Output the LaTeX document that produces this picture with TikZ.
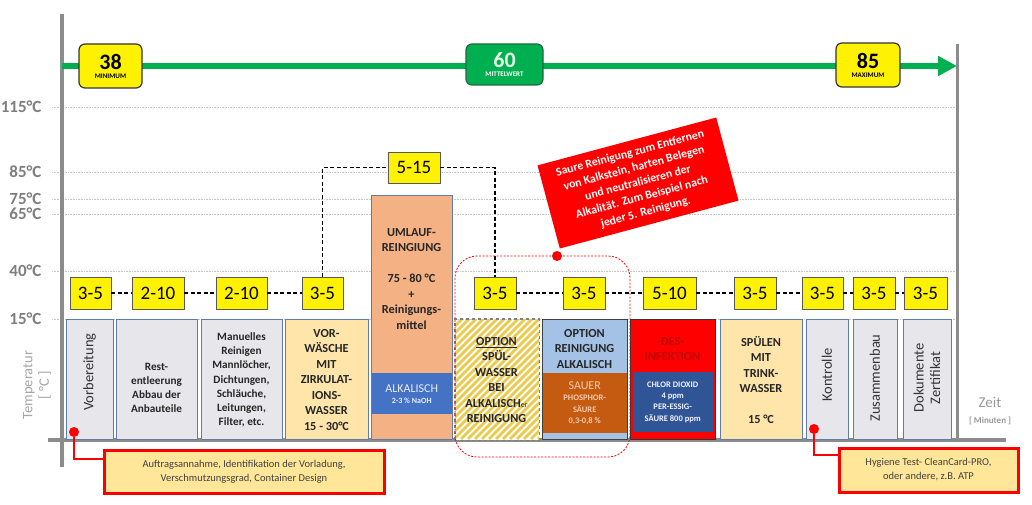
\documentclass[tikz,border=0pt]{standalone}
\usepackage{fontspec}
\setmainfont{Carlito}
\usetikzlibrary{arrows.meta}

\definecolor{blockgrau}{HTML}{E7E6EB}
\definecolor{rahmen}{HTML}{5E7DA8}
\definecolor{pfirsich}{HTML}{FFE5AA}
\definecolor{lachs}{HTML}{F4B183}
\definecolor{blau}{HTML}{4472C4}
\definecolor{hellblau}{HTML}{A4C2E6}
\definecolor{braun}{HTML}{C55A11}
\definecolor{hellbraun}{HTML}{F8CBAD}
\definecolor{dunkelblau}{HTML}{2F5597}
\definecolor{gruen}{HTML}{00B050}
\definecolor{dunkelgruen}{HTML}{1E6B3A}
\definecolor{dunkelrot}{HTML}{C00000}
\definecolor{notiz}{HTML}{FFE699}
\definecolor{achse}{HTML}{8C8C8C}
\definecolor{gitter}{HTML}{C8C8C8}
\definecolor{schraffur}{HTML}{EBC94F}

\tikzset{
	zeitbox/.style={draw=black!65, fill=yellow, line width=0.8pt, inner sep=0pt, minimum height=32pt, font=\fontsize{19}{19}\selectfont},
	kette/.style={black, line width=1.4pt, dash pattern=on 4pt off 2.5pt},
	block/.style={anchor=north west, inner sep=0pt, minimum height=120pt, line width=1.1pt},
	graublock/.style={block, fill=blockgrau, draw=rahmen},
	gelbblock/.style={block, fill=pfirsich, draw=rahmen},
	band/.style={anchor=north west, inner sep=0pt, align=center},
	blocktext/.style={align=center, font=\fontsize{12.3}{15.5}\selectfont\bfseries, text=black!85},
	kleintext/.style={align=center, font=\fontsize{11.2}{14.2}\selectfont\bfseries, text=black!85},
	kanttext/.style={rotate=90, align=center, font=\fontsize{14.5}{16.5}\selectfont, text=black!80},
	wertbox/.style={rounded corners=6pt, draw=black!80, line width=1.2pt, fill=yellow, align=center, inner sep=0pt, font=\fontsize{7}{8}\selectfont\bfseries},
	punkt/.style={circle, fill=red, inner sep=0pt, minimum size=10pt},
	hinweisbox/.style={draw=red, line width=3pt, fill=notiz, align=center, inner sep=0pt, font=\fontsize{10.5}{14}\selectfont, text=black!75},
}

\begin{document}
\begin{tikzpicture}[x=1pt,y=-1pt]
	\useasboundingbox (0,0) rectangle (1032,505);
	
	% Gitter und Temperaturen
	\foreach \y/\lab in {107/115, 172/85, 199/75, 214/65, 271/40, 319/15}{
		\draw[gitter, densely dotted, line width=0.6pt] (52,\y) -- (957,\y);
		\node[anchor=east, text=achse!90!black, font=\fontsize{17}{17}\selectfont\bfseries] (g\lab) at (45,\y) {\lab°C};
	}
	
	% Achsen
	\draw[achse, line width=4pt] (62,14) -- (62,467);
	\draw[achse, line width=4pt] (48,440) -- (1006,440);
	\draw[achse, line width=3pt] (957,44) -- (957,440);
	\node[kanttext, text=black!35] (temp) at (37,385) {Temperatur\\{[ °C ]}};
	\node[align=center, text=black!40, font=\fontsize{9}{16}\selectfont\bfseries] (zeit) at (990,411) {{\fontsize{15}{16}\selectfont\mdseries Zeit}\\{[ Minuten ]}};
	
	% gruener Pfeil mit Werten
	\coordinate (pfeilanfang) at (62,66);
	\coordinate (pfeilende) at (957,66);
	\draw[gruen, line width=6pt, -{Triangle[length=19pt,width=19pt]}] (pfeilanfang) -- (pfeilende);
	\node[wertbox, minimum width=63, minimum height=44] (wmin) at (110.5,66) {{\fontsize{22}{22}\selectfont 38}\\[1pt]MINIMUM};
	\node[wertbox, minimum width=77, minimum height=41, fill=gruen, draw=dunkelgruen, text=white] (wmit) at (504.5,64.5) {{\fontsize{22}{22}\selectfont\color{green!10} 60}\\[1pt]MITTELWERT};
	\node[wertbox, minimum width=64, minimum height=44] (wmax) at (868,65) {{\fontsize{22}{22}\selectfont 85}\\[1pt]MAXIMUM};
	
	% Stufen
	\foreach \n/\x/\w/\s in {1/66/47/graublock, 2/116/81/graublock, 3/201/81/graublock, 4/285/83/gelbblock, 9/720/82/gelbblock, 10/806/42/graublock, 11/853/44/graublock, 12/903/48/graublock}{
		\node[\s, minimum width=\w] (b\n) at (\x,319) {};
	}
	\node[block, minimum width=81, minimum height=244, fill=lachs, draw=rahmen] (b5) at (371,195) {};
	\node[band, minimum width=80, minimum height=41, fill=blau, text=blue!8, font=\fontsize{8}{11}\selectfont\bfseries] (b5band) at (371.5,373) {{\fontsize{12}{14}\selectfont\mdseries ALKALISCH}\\2-3 \% NaOH};
	\node[block, minimum width=83, fill=yellow!4] (b6) at (455,319) {};
	\begin{scope}
		\clip (b6.south west) rectangle (b6.north east);
		\foreach \d in {0,7,...,210}{
			\draw[schraffur, line width=2.8pt] (335+\d,439) -- (455+\d,319);
		}
	\end{scope}
	\draw[black!50, line width=1.1pt, dashed] (b6.south west) rectangle (b6.north east);
	\node[block, minimum width=85, fill=hellblau, draw=black!75] (b7) at (542,319) {};
	\node[band, minimum width=84, minimum height=60, fill=braun, text=hellbraun, font=\fontsize{8.5}{11.5}\selectfont\bfseries] (b7band) at (542.5,373) {{\fontsize{12}{14}\selectfont\mdseries SAUER}\\PHOSPHOR-\\SÄURE\\0,3-0,8 \%};
	\node[block, minimum width=85, fill=red, draw=black!80] (b8) at (630,319) {};
	\node[band, minimum width=80, minimum height=60, fill=dunkelblau, text=blue!5, font=\fontsize{8.5}{11.3}\selectfont\bfseries] (b8band) at (632.5,372) {CHLOR DIOXID\\4 ppm\\PER-ESSIG-\\SÄURE 800 ppm};
	
	% Texte der Stufen
	\node[kanttext] (b1t) at (89.5,372) {Vorbereitung};
	\node[kleintext] (b2t) at (156.5,388) {Rest-\\entleerung\\Abbau der\\Anbauteile};
	\node[kleintext] (b3t) at (241.5,380) {Manuelles\\Reinigen\\Mannlöcher,\\Dichtungen,\\Schläuche,\\Leitungen,\\Filter, etc.};
	\node[blocktext] (b4t) at (326.5,380) {VOR-\\WÄSCHE\\MIT\\ZIRKULAT-\\IONS-\\WASSER\\15 - 30°C};
	\node[blocktext] (b5t) at (411.5,279) {UMLAUF-\\REINGIUNG\\[15.5pt]75 - 80 °C\\+\\Reinigungs-\\mittel};
	\node[blocktext] (b6t) at (496.5,380) {\underline{OPTION}\\SPÜL-\\WASSER\\BEI\\ALKALISCH{\fontsize{8}{8}\selectfont\mdseries er}\\REINIGUNG};
	\node[blocktext] (b7t) at (584.5,349) {OPTION\\REINIGUNG\\ALKALISCH};
	\node[blocktext, text=dunkelrot] (b8t) at (672.5,349) {DES-\\INFEKTION};
	\node[blocktext] (b9t) at (761,380) {SPÜLEN\\MIT\\TRINK-\\WASSER\\[15.5pt]15 °C};
	\node[kanttext] (b10t) at (827,375) {Kontrolle};
	\node[kanttext] (b11t) at (875,378) {Zusammenbau};
	\node[kanttext] (b12t) at (927,378) {Dokumente\\Zertifikat};
	
	% Zeiten
	\foreach \n/\x/\w/\z in {1/90.5/41/3-5, 2/158/52/2-10, 3/241.5/51/2-10, 4/322.5/41/3-5, 6/495/42/3-5, 7/584/42/3-5, 8/669.5/53/5-10, 9/755/42/3-5, 10/822.5/41/3-5, 11/874/42/3-5, 12/925.5/43/3-5}{
		\node[zeitbox, minimum width=\w] (t\n) at (\x,293) {\z};
	}
	\node[zeitbox, minimum width=52, minimum height=31] (t5) at (414,167.5) {5-15};
	\draw[kette] (t1) -- (t2) -- (t3) -- (t4);
	\draw[kette] (t4.north) |- (t5.west);
	\draw[kette] (t5.east) -| (t6.north);
	\draw[kette] (t6) -- (t7) -- (t8) -- (t9) -- (t10) -- (t11) -- (t12);
	
	% Option saure Reinigung
	\draw[red, line width=0.8pt, dash pattern=on 2pt off 1.5pt, rounded corners=22pt] (455,256) rectangle (630,457);
	\node[punkt] (p3) at (557,256) {};
	\node[rotate=15, fill=red, text=white, align=center, inner sep=0pt, minimum width=185, minimum height=86, font=\fontsize{11.8}{15.2}\selectfont\bfseries] (saeure) at (638,183) {Saure Reinigung zum Entfernen\\von Kalkstein, harten Belegen\\und neutralisieren der\\Alkalität. Zum Beispiel nach\\jeder 5. Reinigung.};
	
	% Hinweise
	\node[hinweisbox, minimum width=280, minimum height=43] (c1) at (244,471.5) {Auftragsannahme, Identifikation der Vorladung,\\Verschmutzungsgrad, Container Design};
	\node[punkt] (p1) at (74,432) {};
	\draw[red, line width=2pt] (p1) |- ([yshift=12.5pt]c1.west);
	\node[hinweisbox, minimum width=179, minimum height=44] (c2) at (928.5,470) {Hygiene Test- CleanCard-PRO,\\oder andere, z.B. ATP};
	\node[punkt] (p2) at (814,429) {};
	\draw[red, line width=2pt] (p2) |- ([yshift=15pt]c2.west);
\end{tikzpicture}
\end{document}
